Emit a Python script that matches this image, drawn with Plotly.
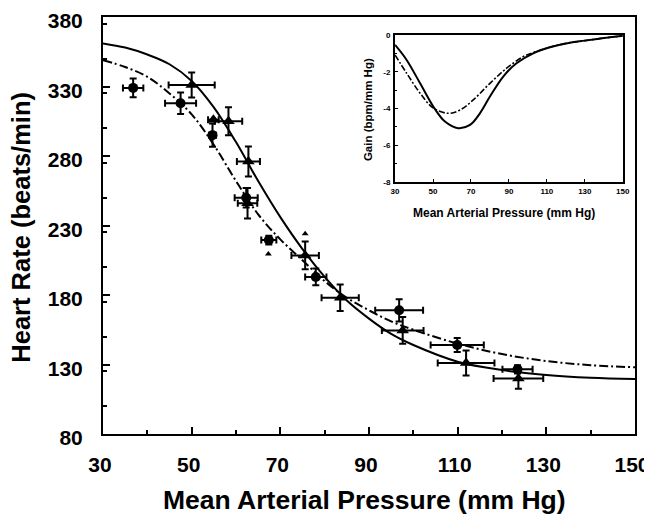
import plotly.graph_objects as go

# ---------------- data ----------------
# fitted curves (main panel)
curve_map = [30, 35, 40, 45, 50, 55, 60, 65, 70, 75, 80, 85, 90, 95, 100, 110, 120, 130, 140, 150]
hr_solid = [361, 358, 353, 346, 334, 315, 290, 262, 236, 213, 193, 176, 163, 152, 144, 132, 126, 122.5, 120.5, 119.5]
hr_dashdot = [349, 344, 337, 325, 310, 288, 262, 238, 220, 205, 190, 178, 169, 161, 155, 145, 137.5, 132.5, 129.5, 128]

# circles (x, y, x error, y error)
circ_map = [36.8, 47.5, 54.7, 62.3, 67.4, 78.0, 96.8, 109.9, 123.5]
circ_hr = [329, 318, 295, 250, 219.5, 193, 169, 144, 126.5]
circ_map_err = [2.3, 3.5, 0.8, 2.6, 1.7, 2.4, 5.4, 6.0, 3.4]
circ_hr_err = [6.7, 7.7, 8.4, 7.0, 3.2, 6.0, 8.0, 5.0, 3.0]

# triangles
tri_map = [50.0, 54.9, 58.3, 62.8, 62.6, 75.6, 83.5, 97.6, 111.9, 123.7]
tri_hr = [331, 306, 305, 276, 246, 208.5, 178, 154.5, 131, 120]
tri_map_err = [5.2, 1.2, 3.1, 2.6, 2.2, 3.1, 4.2, 4.7, 6.4, 5.6]
tri_hr_err = [9.0, 0.0, 10.0, 10.8, 11.0, 10.0, 9.6, 9.6, 9.0, 7.5]

# small triangles
small_tri_map = [67.3, 75.6]
small_tri_hr = [209.5, 224]

# inset: gain curves
gain_map_solid = [30, 36.1, 43.2, 50.2, 56.3, 63.3, 69.5, 74.7, 80, 87, 94, 102.8, 111.6, 122.1, 130, 140, 150]
gain_solid = [-0.54, -1.36, -2.63, -3.9, -4.71, -5.07, -4.89, -4.26, -3.35, -2.26, -1.54, -1.0, -0.67, -0.42, -0.31, -0.17, -0.05]
gain_map_dd = [30, 36.1, 43.2, 50.2, 58.1, 64.2, 71.2, 80, 88.8, 97.5, 102.8, 111.6, 122.1, 130, 140, 150]
gain_dd = [-1.09, -2.08, -3.17, -3.98, -4.26, -4.08, -3.53, -2.63, -1.81, -1.18, -0.96, -0.67, -0.42, -0.31, -0.17, -0.05]

x_ticks = [30, 50, 70, 90, 110, 130, 150]
y_ticks = [80, 130, 180, 230, 280, 330, 380]
gain_ticks = [0, -2, -4, -6, -8]

FONT = "Liberation Sans"
DASHDOT = "9px,3px,2px,3px"

fig = go.Figure()

# main curves
fig.add_trace(go.Scatter(x=curve_map, y=hr_solid, mode="lines", line=dict(color="black", width=2, shape="spline"),
                         showlegend=False, hoverinfo="skip"))
fig.add_trace(go.Scatter(x=curve_map, y=hr_dashdot, mode="lines",
                         line=dict(color="black", width=2, dash=DASHDOT, shape="spline"),
                         showlegend=False, hoverinfo="skip"))

# data points
fig.add_trace(go.Scatter(
    x=circ_map, y=circ_hr, mode="markers",
    marker=dict(symbol="circle", size=10, color="black"),
    error_x=dict(type="data", array=circ_map_err, color="black", thickness=2, width=3.5),
    error_y=dict(type="data", array=circ_hr_err, color="black", thickness=2, width=3.5),
    showlegend=False))
fig.add_trace(go.Scatter(
    x=tri_map, y=tri_hr, mode="markers",
    marker=dict(symbol="triangle-up", size=11, color="black"),
    error_x=dict(type="data", array=tri_map_err, color="black", thickness=2, width=3.5),
    error_y=dict(type="data", array=tri_hr_err, color="black", thickness=2, width=3.5),
    showlegend=False))
fig.add_trace(go.Scatter(
    x=small_tri_map, y=small_tri_hr, mode="markers",
    marker=dict(symbol="triangle-up", size=6, color="black"), showlegend=False))

# inset curves
fig.add_trace(go.Scatter(x=gain_map_solid, y=gain_solid, xaxis="x2", yaxis="y2", mode="lines",
                         line=dict(color="black", width=2, shape="spline"), showlegend=False))
fig.add_trace(go.Scatter(x=gain_map_dd, y=gain_dd, xaxis="x2", yaxis="y2", mode="lines",
                         line=dict(color="black", width=1.6, dash="6px,2px,2px,2px", shape="spline"),
                         showlegend=False))

tickfont_x = dict(family=FONT, size=21, color="black", weight="bold")
tickfont_y = dict(family=FONT, size=21, color="black", weight="bold")
tickfont_inset = dict(family=FONT, size=8, color="black", weight="bold")

# page body has an 8px default margin: figure shrunk/shifted to compensate
fig.update_layout(
    width=644, height=507,
    margin=dict(l=95, r=17, t=9, b=81),
    paper_bgcolor="white", plot_bgcolor="white",
    xaxis=dict(range=[30, 150], tickvals=x_ticks, ticktext=[str(v) for v in x_ticks], automargin=False,
               ticklabeloverflow="allow", ticklabelshift=-3,
               showgrid=False, zeroline=False, showline=True, linecolor="black", linewidth=2, mirror=True,
               ticks="inside", ticklen=7, tickwidth=1.5, tickcolor="black",
               minor=dict(dtick=10, ticks="inside", ticklen=4, tickwidth=1.5, tickcolor="black"),
               tickfont=tickfont_x, ticklabelstandoff=11),
    yaxis=dict(range=[80, 380], tickvals=y_ticks, ticktext=[str(v) for v in y_ticks], automargin=False,
               ticklabeloverflow="allow", ticklabelshift=4,
               showgrid=False, zeroline=False, showline=True, linecolor="black", linewidth=2, mirror=True,
               ticks="inside", ticklen=7, tickwidth=1.5, tickcolor="black",
               minor=dict(dtick=25, ticks="inside", ticklen=4, tickwidth=1.5, tickcolor="black"),
               tickfont=tickfont_y, ticklabelstandoff=14),
    xaxis2=dict(domain=[0.549, 0.977], anchor="y2", range=[30, 150], tickvals=x_ticks, automargin=False,
                ticktext=[str(v) for v in x_ticks], ticklabeloverflow="allow",
                showgrid=False, zeroline=False, showline=True, linecolor="black", linewidth=2, mirror=True,
                ticks="inside", ticklen=3, tickwidth=1, tickcolor="black",
                tickfont=tickfont_inset, ticklabelstandoff=0),
    yaxis2=dict(domain=[0.604, 0.957], anchor="x2", range=[-8, 0], tickvals=gain_ticks, automargin=False,
                ticktext=[str(v) for v in gain_ticks], ticklabeloverflow="allow",
                showgrid=False, zeroline=False, showline=True, linecolor="black", linewidth=2, mirror=True,
                ticks="inside", ticklen=3, tickwidth=1, tickcolor="black",
                minor=dict(dtick=1, ticks="inside", ticklen=2, tickwidth=1, tickcolor="black"),
                tickfont=tickfont_inset, ticklabelstandoff=1),
    annotations=[
        dict(text="Mean Arterial Pressure (mm Hg)", xref="paper", yref="paper", x=0.492, y=-0.158,
             showarrow=False, xanchor="center", yanchor="middle",
             font=dict(family=FONT, size=26.5, color="black", weight="bold")),
        dict(text="Heart Rate (beats/min)", xref="paper", yref="paper", x=-0.154, y=0.495,
             showarrow=False, xanchor="center", yanchor="middle", textangle=-90,
             font=dict(family=FONT, size=25.5, color="black", weight="bold")),
        dict(text="Mean Arterial Pressure (mm Hg)", xref="paper", yref="paper", x=0.754, y=0.530,
             showarrow=False, xanchor="center", yanchor="middle",
             font=dict(family=FONT, size=12, color="black", weight="bold")),
        dict(text="Gain (bpm/mm Hg)", xref="paper", yref="paper", x=0.498, y=0.779,
             showarrow=False, xanchor="center", yanchor="middle", textangle=-90,
             font=dict(family=FONT, size=11.5, color="black", weight="bold")),
    ],
)

fig.write_html("out.html")
